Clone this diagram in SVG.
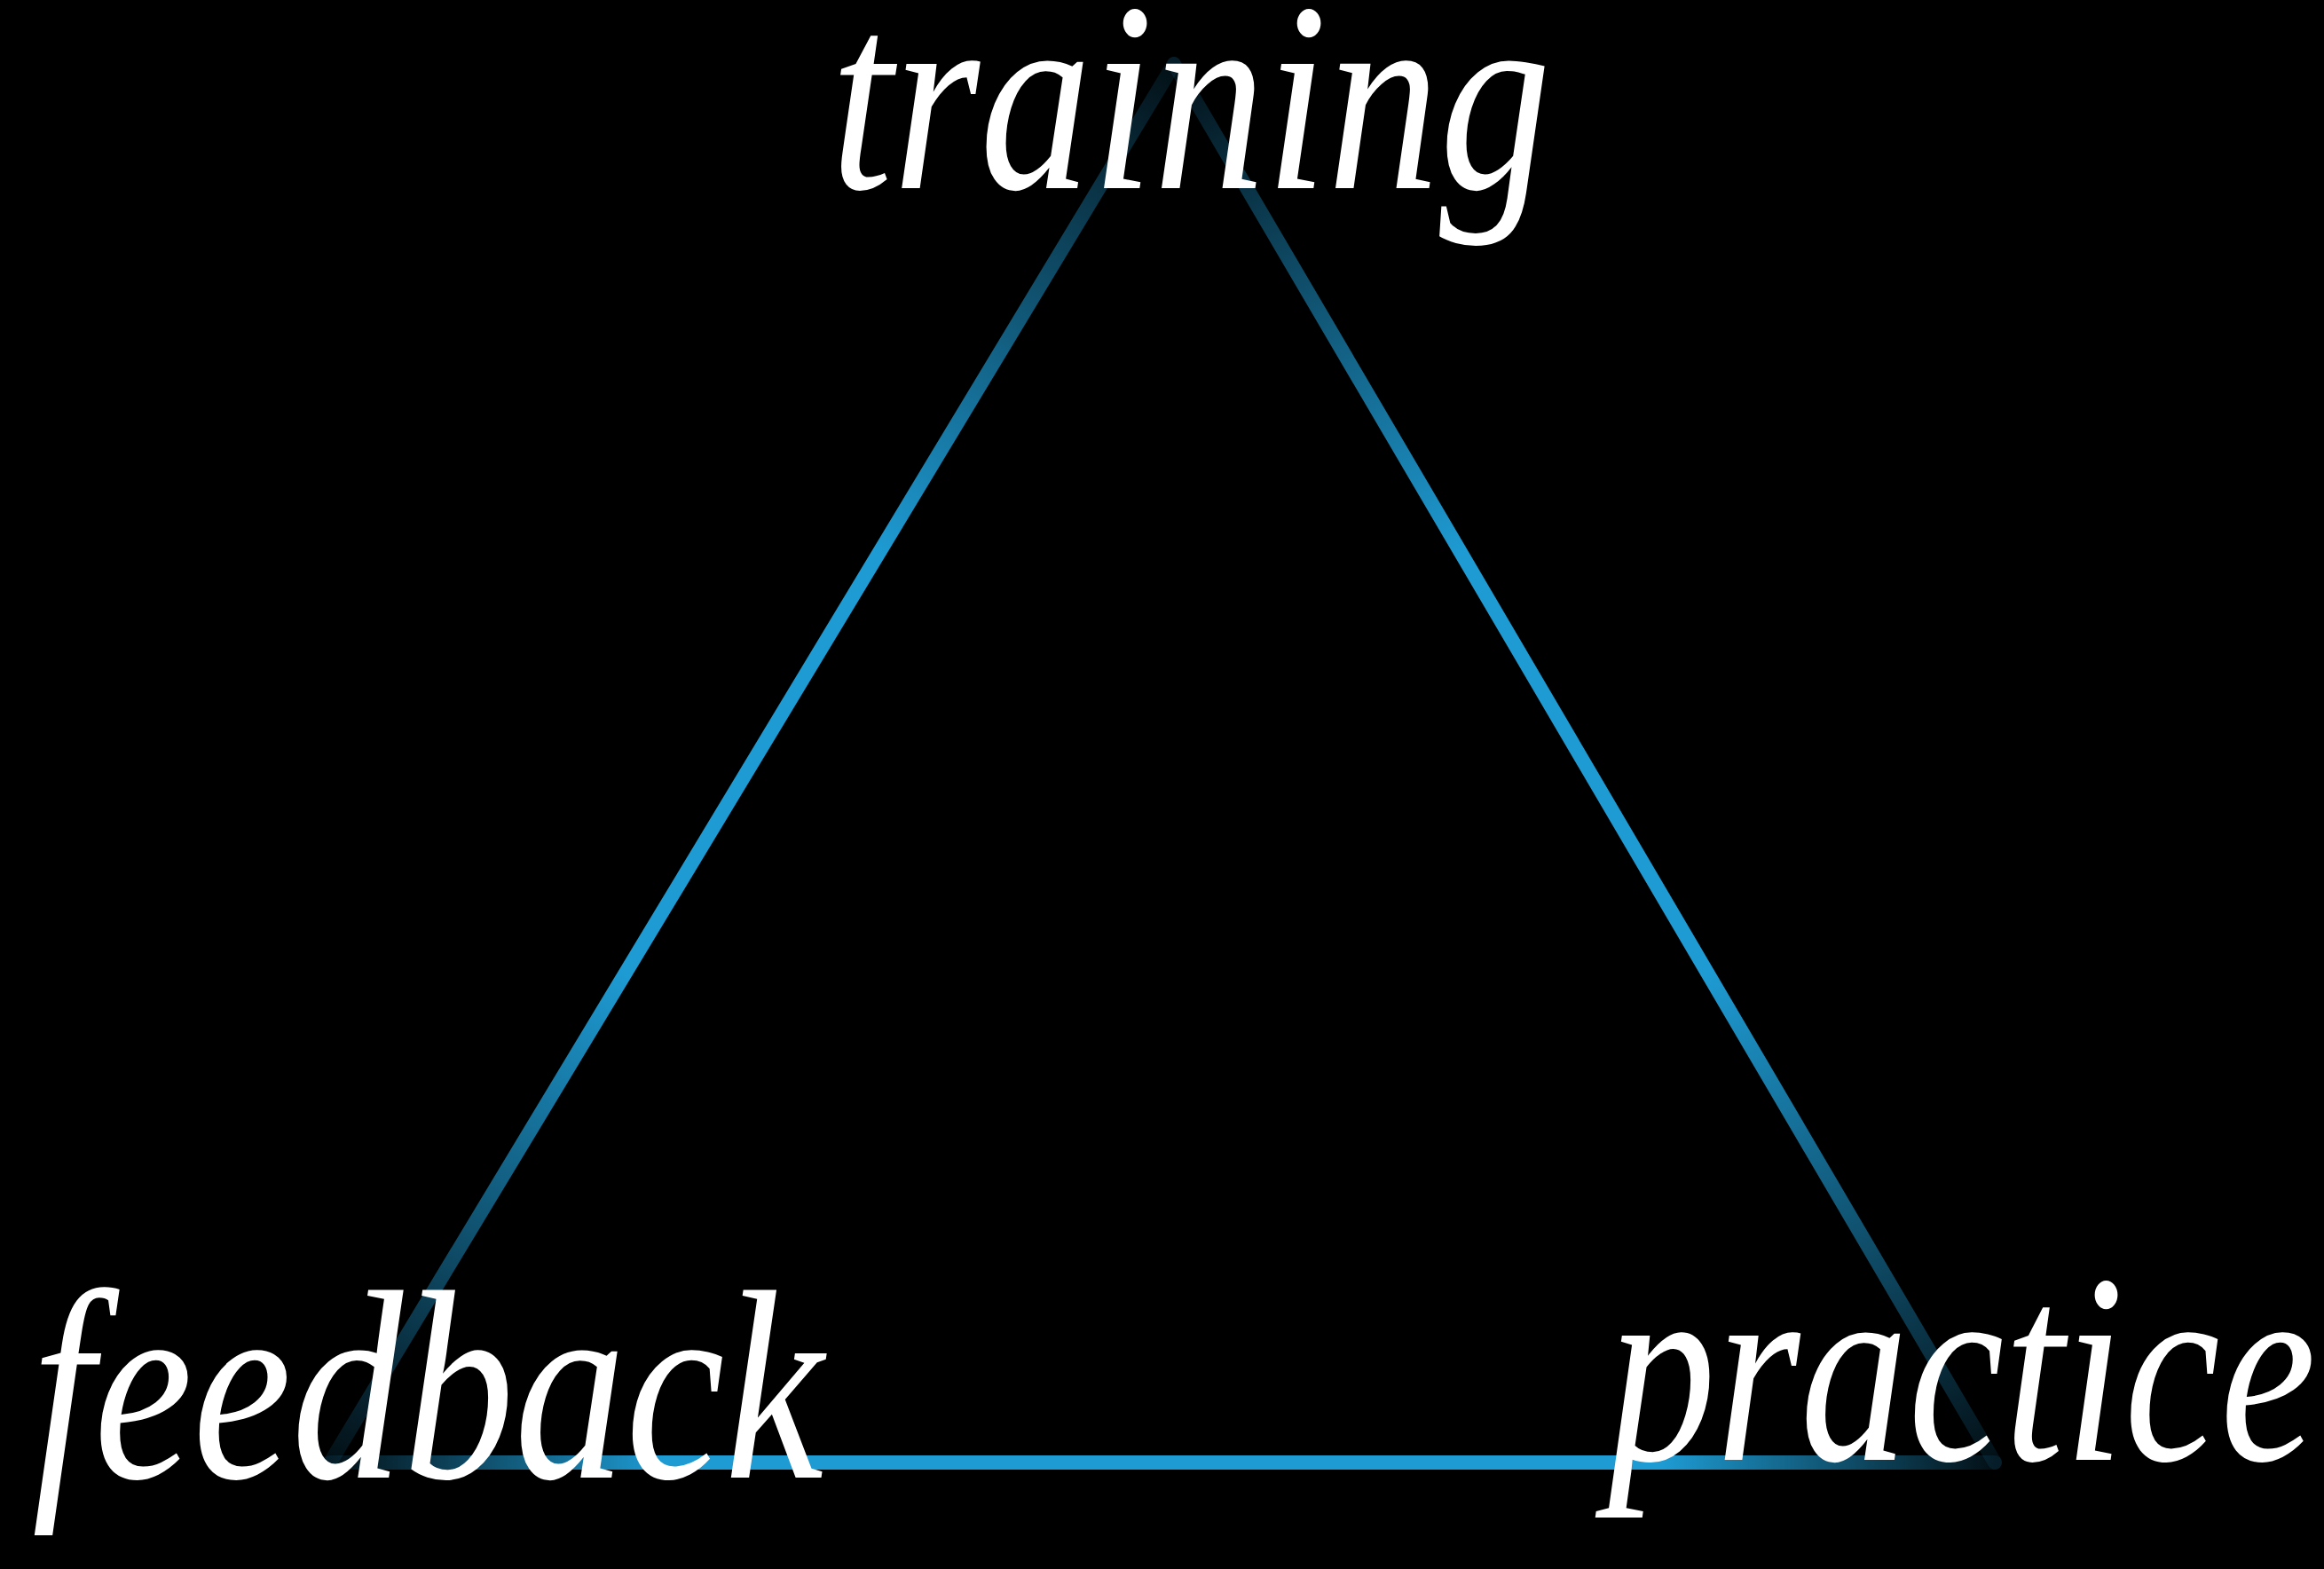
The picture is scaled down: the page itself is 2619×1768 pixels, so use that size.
<svg xmlns="http://www.w3.org/2000/svg" width="2619" height="1768" viewBox="0 0 2619 1768">
<style>
.lbl{font-family:"Liberation Serif","DejaVu Serif",serif;font-style:italic;font-size:305px;fill:#ffffff}
.edge{fill:none;stroke-width:16;stroke-linecap:round}
</style>
<defs>
<linearGradient id="gL" gradientUnits="userSpaceOnUse" x1="1323" y1="72" x2="372" y2="1648">
<stop offset="0" stop-color="#1e9bd3" stop-opacity="0.1"/>
<stop offset="0.35" stop-color="#1e9bd3" stop-opacity="1"/>
<stop offset="0.65" stop-color="#1e9bd3" stop-opacity="1"/>
<stop offset="1" stop-color="#1e9bd3" stop-opacity="0.1"/>
</linearGradient>
<linearGradient id="gR" gradientUnits="userSpaceOnUse" x1="1323" y1="72" x2="2248" y2="1648">
<stop offset="0" stop-color="#1e9bd3" stop-opacity="0.1"/>
<stop offset="0.35" stop-color="#1e9bd3" stop-opacity="1"/>
<stop offset="0.65" stop-color="#1e9bd3" stop-opacity="1"/>
<stop offset="1" stop-color="#1e9bd3" stop-opacity="0.1"/>
</linearGradient>
<linearGradient id="gB" gradientUnits="userSpaceOnUse" x1="372" y1="1648" x2="2248" y2="1648">
<stop offset="0" stop-color="#1e9bd3" stop-opacity="0.1"/>
<stop offset="0.2" stop-color="#1e9bd3" stop-opacity="1"/>
<stop offset="0.8" stop-color="#1e9bd3" stop-opacity="1"/>
<stop offset="1" stop-color="#1e9bd3" stop-opacity="0.1"/>
</linearGradient>
</defs>
<rect width="2619" height="1768" fill="#000000"/>
<g id="connectors">
<line class="edge" x1="1323" y1="72" x2="372" y2="1648" stroke="url(#gL)"/>
<line class="edge" x1="1323" y1="72" x2="2248" y2="1648" stroke="url(#gR)"/>
<line class="edge" x1="372" y1="1648" x2="2248" y2="1648" stroke="url(#gB)"/>
</g>
<g id="node-training"><text class="lbl" x="936" y="212" textLength="812" lengthAdjust="spacingAndGlyphs">training</text></g>
<g id="node-feedback"><text class="lbl" x="36" y="1665" textLength="892" lengthAdjust="spacingAndGlyphs">feedback</text></g>
<g id="node-practice"><text class="lbl" x="1812" y="1645" textLength="798" lengthAdjust="spacingAndGlyphs">practice</text></g>
</svg>
